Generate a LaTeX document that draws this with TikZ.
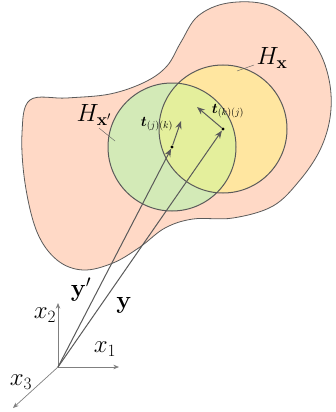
\documentclass[tikz,border=0pt]{standalone}
\usepackage{amsmath,bm}
\usetikzlibrary{arrows.meta}
\definecolor{blobpink}{HTML}{FFD9C6}
\definecolor{ballgreen}{HTML}{D3EAB7}
\definecolor{ballyellow}{HTML}{FFE6A0}
\definecolor{ballmix}{HTML}{E4EF9C}
\definecolor{edgegray}{HTML}{5A5A5A}
\definecolor{axisgray}{HTML}{808080}
\tikzset{
  ballbox/.style={draw=edgegray, line width=1pt},
  vec/.style={-{Stealth[length=2.8mm,width=2.2mm]}, line width=1pt, color=edgegray},
  axisarr/.style={-{Stealth[length=2mm,width=1.6mm]}, line width=0.7pt, color=axisgray},
  dotnode/.style={circle, fill=black, inner sep=0pt, minimum size=3.4pt},
  leader/.style={line width=0.4pt, color=edgegray},
  biglabel/.style={font=\fontsize{24}{28}\selectfont, inner sep=0pt},
  tlabel/.style={font=\fontsize{14}{17}\selectfont, inner sep=0pt}}
\begin{document}
\begin{tikzpicture}[x=1pt,y=-1pt]
    \useasboundingbox (0,0) rectangle (335,412);
    % the region
    \draw[fill=blobpink, draw=edgegray, line width=0.8pt] plot[smooth cycle, tension=0.6] coordinates {
      (30,100) (67,98) (110,94) (145,82) (167,66) (181,42) (198,16) (228,3)
      (268,5) (300,27) (320,53) (330,85) (330,118) (320,150) (300,180)
      (273,206) (233,218) (193,219) (165,228) (140,247) (113,263) (83,270)
      (57,260) (37,232) (25,183) (22,133)};
    % the two balls
    \coordinate (cg) at (172,147);
    \coordinate (cy) at (223,129);
    \fill[ballgreen] (cg) circle (64);
    \fill[ballyellow] (cy) circle (64);
    \begin{scope}
      \clip (cg) circle (64);
      \fill[ballmix] (cy) circle (64);
    \end{scope}
    \draw[ballbox] (cg) circle (64);
    \draw[ballbox] (cy) circle (64);
    % leaders and labels of the balls
    \node[biglabel] (Hx) at (272,58) {$H_{\mathbf{x}}$};
    \node[biglabel] (Hxp) at (94,115) {$H_{\mathbf{x}'}$};
    \draw[leader] (254,65) -- (237,71);
    \draw[leader] (99,128) -- (115,141);
    % axes
    \coordinate (O) at (58,367);
    \coordinate (ax1) at (119,367);
    \coordinate (ax2) at (58,303);
    \coordinate (ax3) at (13,408);
    \draw[axisarr] (O) -- (ax1);
    \draw[axisarr] (O) -- (ax2);
    \draw[axisarr] (O) -- (ax3);
    \node[biglabel] (x1) at (105,349) {$x_1$};
    \node[biglabel] (x2) at (45,315) {$x_2$};
    \node[biglabel] (x3) at (21,382) {$x_3$};
    % the position vectors
    \node[dotnode] (pg) at (cg) {};
    \node[dotnode] (py) at (cy) {};
    \draw[vec] (O) -- (pg);
    \draw[vec] (O) -- (py);
    \node[biglabel] (yp) at (81,290) {$\mathbf{y}'$};
    \node[biglabel] (yv) at (124,305) {$\mathbf{y}$};
    % the two tractions
    \coordinate (tg) at (181,121);
    \coordinate (ty) at (197,107);
    \draw[vec] (pg) -- (tg);
    \draw[vec] (py) -- (ty);
    \node[tlabel] (tjk) at (157,124) {$\bm{t}_{(j)(k)}$};
    \node[tlabel] (tkj) at (228,111) {$\bm{t}_{(k)(j)}$};
\end{tikzpicture}
\end{document}
